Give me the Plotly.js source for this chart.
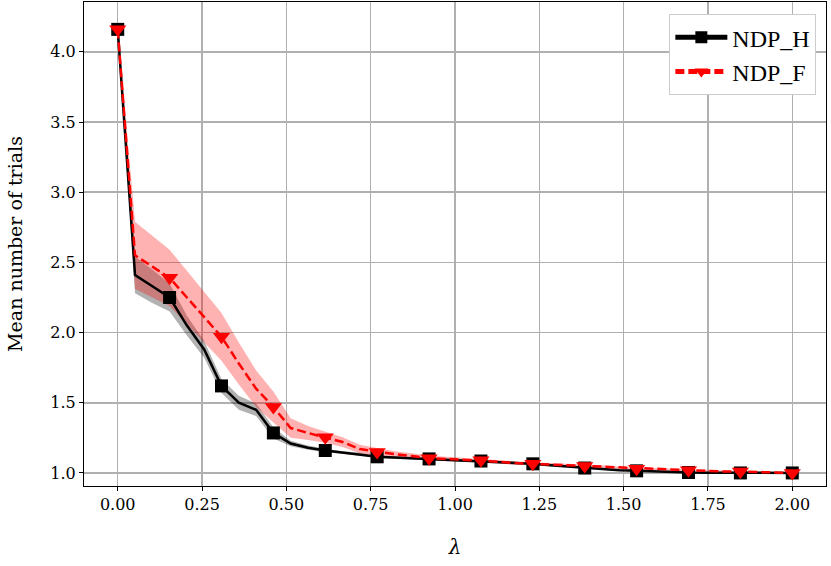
<!DOCTYPE html>
<html>
<head>
<meta charset="utf-8">
<script src="https://cdn.plot.ly/plotly-3.0.1.min.js"></script>
<style>
  body { margin: 0; background: #fff; }
  #graph { width: 831px; height: 566px; }
</style>
</head>
<body>
<div id="graph"></div>
<script>
// lambda values (40 points, markers on every 3rd)
var lam = [0, 0.0513, 0.1026, 0.1538, 0.2051, 0.2564, 0.3077, 0.3590, 0.4103, 0.4615,
           0.5128, 0.5641, 0.6154, 0.6667, 0.7179, 0.7692, 0.8205, 0.8718, 0.9231, 0.9744,
           1.0256, 1.0769, 1.1282, 1.1795, 1.2308, 1.2821, 1.3333, 1.3846, 1.4359, 1.4872,
           1.5385, 1.5897, 1.6410, 1.6923, 1.7436, 1.7949, 1.8462, 1.8974, 1.9487, 2.0];

// NDP_H mean + spread
var ndpH = [4.16, 2.41, 2.33, 2.25, 2.05, 1.88, 1.62, 1.50, 1.45, 1.285,
            1.21, 1.18, 1.16, 1.145, 1.135, 1.115, 1.11, 1.105, 1.10, 1.095,
            1.09, 1.085, 1.08, 1.075, 1.065, 1.055, 1.045, 1.035, 1.03, 1.02,
            1.015, 1.01, 1.005, 1.003, 1.002, 1.001, 1.0, 1.0, 1.0, 1.0];
var ndpHErr = [0, 0.13, 0.12, 0.10, 0.07, 0.06, 0.05, 0.05, 0.045, 0.04,
               0.02, 0.015, 0.012, 0.01, 0.01, 0.01, 0.008, 0.008, 0.008, 0.008,
               0.007, 0.007, 0.007, 0.006, 0.006, 0.006, 0.005, 0.005, 0.005, 0.004,
               0.004, 0.004, 0.003, 0.003, 0.003, 0.002, 0.002, 0.002, 0.001, 0.001];

// NDP_F mean + spread
var ndpF = [4.16, 2.55, 2.47, 2.39, 2.25, 2.11, 1.97, 1.78, 1.60, 1.47,
            1.32, 1.285, 1.255, 1.22, 1.17, 1.15, 1.135, 1.12, 1.105, 1.10,
            1.095, 1.09, 1.08, 1.07, 1.065, 1.06, 1.055, 1.05, 1.045, 1.035,
            1.03, 1.025, 1.02, 1.02, 1.015, 1.01, 1.01, 1.005, 1.0, 1.0];
var ndpFErr = [0, 0.24, 0.22, 0.20, 0.19, 0.18, 0.17, 0.15, 0.13, 0.11,
               0.07, 0.05, 0.04, 0.035, 0.03, 0.025, 0.02, 0.02, 0.018, 0.016,
               0.015, 0.014, 0.013, 0.012, 0.012, 0.011, 0.011, 0.01, 0.01, 0.01,
               0.01, 0.009, 0.009, 0.008, 0.008, 0.007, 0.007, 0.006, 0.005, 0.005];

var xTicks = [0, 0.25, 0.5, 0.75, 1.0, 1.25, 1.5, 1.75, 2.0];

function band(x, y, e) {
    var bx = [], by = [];
    for (var i = 0; i < x.length; i++) { bx.push(x[i]); by.push(y[i] + e[i]); }
    for (var j = x.length - 1; j >= 0; j--) { bx.push(x[j]); by.push(y[j] - e[j]); }
    return {x: bx, y: by};
}

function markEvery(n, size) {
    var s = [];
    for (var i = 0; i < n; i++) s.push(i % 3 == 0 ? size : 0);
    return s;
}

var bH = band(lam, ndpH, ndpHErr);
var bF = band(lam, ndpF, ndpFErr);

var data = [
    {
        type: 'scatter', mode: 'lines', x: bH.x, y: bH.y,
        fill: 'toself', fillcolor: 'rgba(0,0,0,0.3)',
        line: {width: 0}, hoverinfo: 'skip', showlegend: false
    },
    {
        type: 'scatter', mode: 'lines', x: bF.x, y: bF.y,
        fill: 'toself', fillcolor: 'rgba(255,0,0,0.3)',
        line: {width: 0}, hoverinfo: 'skip', showlegend: false
    },
    {
        type: 'scatter', mode: 'lines+markers', name: 'NDP_H',
        x: lam, y: ndpH,
        line: {color: 'black', width: 2.5},
        marker: {symbol: 'square', color: 'black', opacity: 1,
                 size: markEvery(lam.length, 13), line: {width: 0}}
    },
    {
        type: 'scatter', mode: 'lines+markers', name: 'NDP_F',
        x: lam, y: ndpF,
        line: {color: 'red', width: 2.5, dash: '9px,4px'},
        marker: {symbol: 'triangle-down', color: 'red', opacity: 1,
                 size: markEvery(lam.length, 15), line: {width: 0}}
    }
];

var layout = {
    width: 831,
    height: 566,
    margin: {l: 84, r: 5, t: 2, b: 80},
    paper_bgcolor: 'white',
    plot_bgcolor: 'white',
    font: {family: 'DejaVu Serif', size: 16, color: 'black'},
    showlegend: true,
    legend: {
        x: 0.987, y: 0.975, xanchor: 'right', yanchor: 'top',
        bgcolor: 'white', bordercolor: '#cccccc', borderwidth: 1,
        font: {family: 'Liberation Serif', size: 24},
        itemsizing: 'constant', itemwidth: 52
    },
    xaxis: {
        range: [-0.1, 2.1],
        tickvals: xTicks,
        tickformat: '.2f',
        ticks: 'outside', ticklen: 4, tickcolor: 'black',
        showline: true, mirror: true, linecolor: 'black', linewidth: 1,
        showgrid: true, gridcolor: '#b0b0b0', gridwidth: 1.5,
        zeroline: false,
        title: {text: '<i>λ</i>', font: {size: 20}, standoff: 26}
    },
    yaxis: {
        range: [0.907, 4.355],
        dtick: 0.5, tick0: 1,
        tickformat: '.1f',
        ticks: 'outside', ticklen: 4, tickcolor: 'black',
        showline: true, mirror: true, linecolor: 'black', linewidth: 1,
        showgrid: true, gridcolor: '#b0b0b0', gridwidth: 1.5,
        zeroline: false,
        title: {text: 'Mean number of trials', font: {size: 19}, standoff: 22}
    }
};

Plotly.newPlot('graph', data, layout, {displayModeBar: false, staticPlot: true});
</script>
</body>
</html>
